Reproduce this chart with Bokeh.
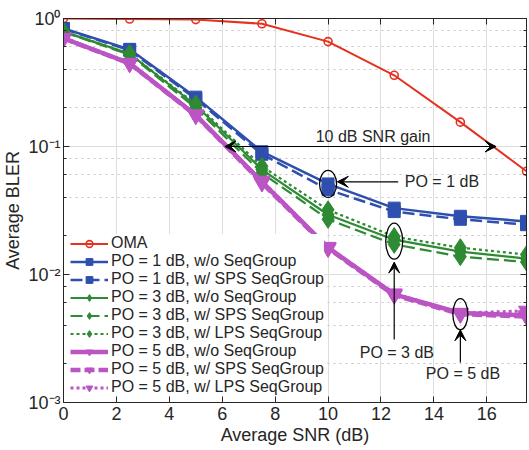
from bokeh.plotting import figure
from bokeh.models import (LinearAxis, LogAxis, FixedTicker, LogTicker, CustomJSTickFormatter,
                          Legend, LegendItem, Arrow, VeeHead, Label, Range1d)
from bokeh.embed import file_html
from bokeh.resources import INLINE

# ---------------- data ----------------
snr = [0, 2.5, 5, 7.5, 10, 12.5, 15, 17.5]
oma = [1.0, 0.99, 0.98, 0.91, 0.66, 0.36, 0.155, 0.064]
po1_wo = [0.836, 0.574, 0.243, 0.091, 0.051, 0.033, 0.0285, 0.026]
po1_sps = [0.83, 0.565, 0.235, 0.087, 0.046, 0.031, 0.027, 0.0245]
po3_wo = [0.79, 0.53, 0.21, 0.066, 0.0293, 0.0187, 0.0151, 0.0133]
po3_sps = [0.785, 0.52, 0.20, 0.062, 0.027, 0.0172, 0.0138, 0.0125]
po3_lps = [0.79, 0.53, 0.215, 0.070, 0.032, 0.0198, 0.0162, 0.0143]
po5_wo = [0.70, 0.447, 0.176, 0.053, 0.0162, 0.0070, 0.0050, 0.0048]
po5_sps = [0.70, 0.445, 0.175, 0.052, 0.0160, 0.0069, 0.0049, 0.0047]
po5_lps = [0.705, 0.45, 0.178, 0.054, 0.0164, 0.0071, 0.0050, 0.0052]

x_ticks = [0, 2, 4, 6, 8, 10, 12, 14, 16]
y_ticks = [0.001, 0.01, 0.1, 1]
y_tick_labels = ["10\u207b\u00b3", "10\u207b\u00b2", "10\u207b\u00b9", "10\u2070"]

labels = ["OMA",
          "PO = 1 dB, w/o SeqGroup", "PO = 1 dB, w/ SPS SeqGroup",
          "PO = 3 dB, w/o SeqGroup", "PO = 3 dB, w/ SPS SeqGroup", "PO = 3 dB, w/ LPS SeqGroup",
          "PO = 5 dB, w/o SeqGroup", "PO = 5 dB, w/ SPS SeqGroup", "PO = 5 dB, w/ LPS SeqGroup"]

RED = "#e5311f"
BLUE = "#2f4fae"
GREEN = "#2e8a33"
MAG = "#bb55c4"
INK = "#262626"
FONT = "Liberation Sans"

p = figure(width=529, height=450, x_range=Range1d(0, 17.5), y_range=Range1d(1e-3, 1),
           y_axis_type="log", output_backend="svg", toolbar_location=None,
           min_border_left=63, min_border_right=3, min_border_top=18, min_border_bottom=48)
p.background_fill_color = "white"
p.border_fill_color = "white"
p.outline_line_color = INK
p.outline_line_width = 1

# axes
xax = p.xaxis[0]
yax = p.yaxis[0]
xax.ticker = FixedTicker(ticks=x_ticks)
yax.ticker = LogTicker()
yax.formatter = CustomJSTickFormatter(args=dict(vals=y_ticks, labs=y_tick_labels), code="""
    for (let i = 0; i < vals.length; i++) {
        if (Math.abs(Math.log10(tick) - Math.log10(vals[i])) < 1e-6) return labs[i];
    }
    return '';
""")
xax.axis_label = "Average SNR (dB)"
yax.axis_label = "Average BLER"
for ax in (xax, yax):
    ax.axis_label_text_font = FONT
    ax.axis_label_text_font_size = "18px"
    ax.axis_label_text_font_style = "normal"
    ax.axis_label_text_color = INK
    ax.major_label_text_font = FONT
    ax.major_label_text_font_size = "18px"
    ax.major_label_text_color = INK
    ax.axis_line_color = INK
    ax.major_tick_line_color = INK
    ax.minor_tick_line_color = INK
    ax.major_tick_in = 6
    ax.major_tick_out = 0
    ax.minor_tick_in = 3
    ax.minor_tick_out = 0
    ax.major_label_standoff = 3
    ax.axis_label_standoff = 2
xax.minor_tick_line_color = None
xax.major_label_standoff = 4

empty = CustomJSTickFormatter(code="return '';")
top = LinearAxis(ticker=FixedTicker(ticks=x_ticks), formatter=empty)
right = LogAxis(ticker=LogTicker(), formatter=empty)
for ax in (top, right):
    ax.axis_line_color = INK
    ax.major_tick_line_color = INK
    ax.minor_tick_line_color = INK
    ax.major_tick_in = 6
    ax.major_tick_out = 0
    ax.minor_tick_in = 3
    ax.minor_tick_out = 0
    ax.major_label_standoff = 0
    ax.axis_label_standoff = 0
    ax.major_label_text_font_size = "1px"
top.minor_tick_line_color = None
p.add_layout(top, "above")
p.add_layout(right, "right")

# grids
p.xgrid.grid_line_color = "#dedede"
p.ygrid.grid_line_color = "#dedede"
p.ygrid.minor_grid_line_color = "#c4c4c4"
p.ygrid.minor_grid_line_dash = "2 4"

# legend (drawn under the curves, over the grid)
legend = Legend(location=(7, 6), margin=0, padding=4, spacing=0,
                glyph_width=38, glyph_height=17, label_height=16, label_standoff=3,
                label_text_font=FONT, label_text_font_size="16px", label_text_color=INK,
                border_line_color=None, background_fill_color="white", background_fill_alpha=1)
legend.level = "underlay"
p.add_layout(legend, "center")

# series
series = [
    (oma, RED, "solid", 2, "circle", 8, 1.6, None),
    (po1_wo, BLUE, "solid", 2.5, "square", 12, 1, BLUE),
    (po1_sps, BLUE, "12 5", 2.5, "square", 12, 1, BLUE),
    (po3_wo, GREEN, "solid", 2.2, "diamond", 18, 1, GREEN),
    (po3_sps, GREEN, "12 5", 2.2, "diamond", 18, 1, GREEN),
    (po3_lps, GREEN, "3 3", 2.2, "diamond", 18, 1, GREEN),
    (po5_wo, MAG, "solid", 4.5, "inverted_triangle", 16, 1, MAG),
    (po5_sps, MAG, "10 4", 4.5, "inverted_triangle", 16, 1, MAG),
    (po5_lps, MAG, "3 3", 3, "inverted_triangle", 16, 1, MAG),
]
for (vals, col, dash, lw, marker, size, mlw, fill), lab in zip(series, labels):
    ln = p.line(snr, vals, line_color=col, line_width=lw, line_dash=dash)
    sc = p.scatter(snr, vals, marker=marker, size=size, line_color=col, line_width=mlw,
                   fill_color=fill if fill else None)
    legend.items.append(LegendItem(label=lab, renderers=[ln, sc]))

# annotations
def arrow(x0, y0, x1, y1, both=False):
    end = VeeHead(size=11, fill_color="black", line_color="black", line_width=1)
    start = VeeHead(size=11, fill_color="black", line_color="black", line_width=1) if both else None
    p.add_layout(Arrow(x_start=x0, y_start=y0, x_end=x1, y_end=y1, start=start, end=end,
                       line_color="black", line_width=1.2))

def label(x, y, txt, align="center", baseline="middle", yoff=0):
    p.add_layout(Label(x=x, y=y, text=txt, text_align=align, text_baseline=baseline, y_offset=yoff,
                       text_font=FONT, text_font_size="16px", text_color=INK))

arrow(6.1, 0.1, 16.35, 0.1, both=True)
label(11.7, 0.1, "10 dB SNR gain", baseline="bottom", yoff=2)

p.ellipse(x=[10, 12.5, 15], y=[0.051, 0.0182, 0.0049], width=[17, 17, 15], height=[27, 36, 31],
          width_units="screen", height_units="screen", fill_color=None, line_color="black",
          line_width=1.3)
arrow(12.65, 0.053, 10.35, 0.053)
label(12.9, 0.053, "PO = 1 dB", align="left")
arrow(12.5, 0.0031, 12.5, 0.0125)
label(12.6, 0.00245, "PO = 3 dB")
arrow(15, 0.00205, 15, 0.0037)
label(15.1, 0.0017, "PO = 5 dB")

open("out.html", "w").write(file_html(p, INLINE))
